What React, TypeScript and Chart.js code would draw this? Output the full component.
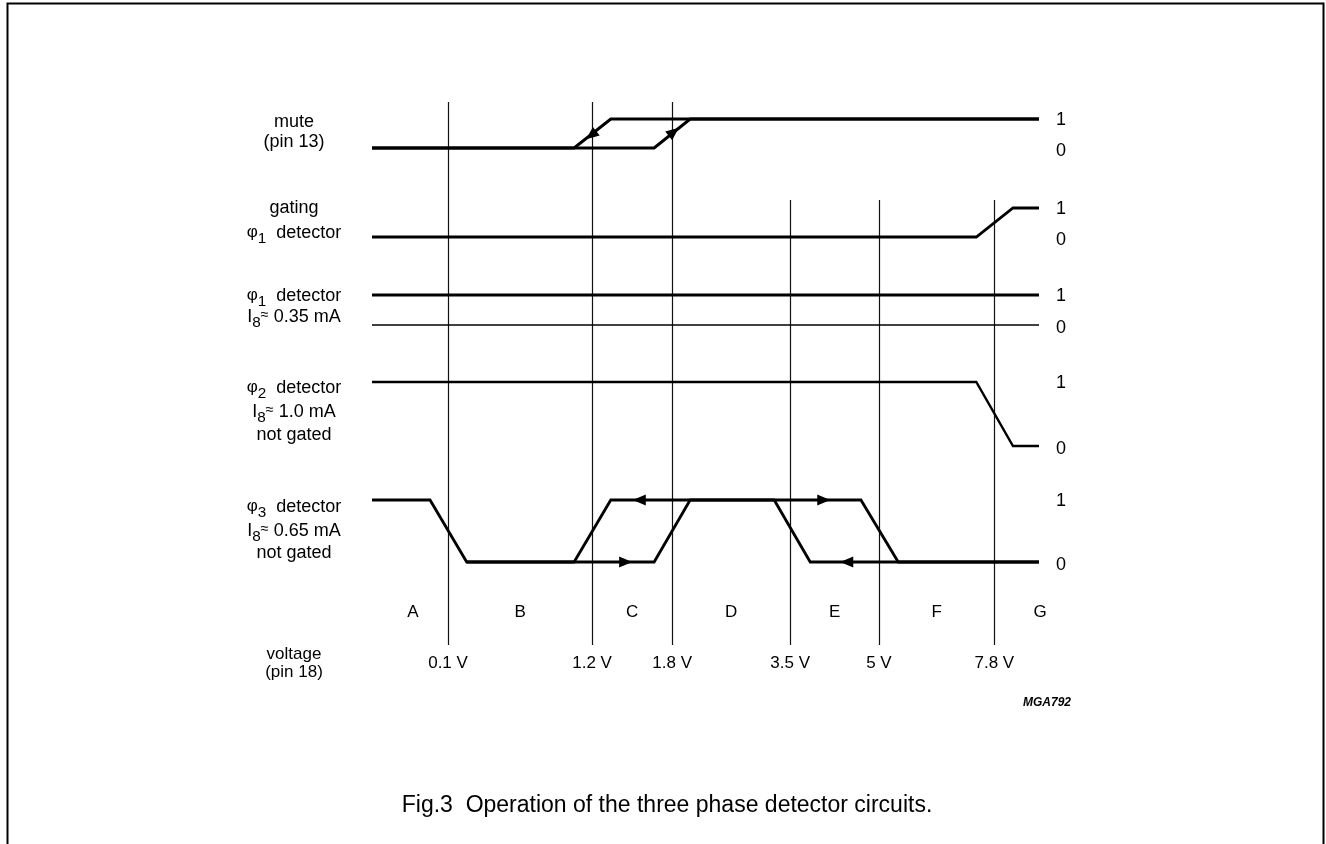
import React, { useEffect, useRef } from "react";
import { Chart, registerables } from "chart.js";

Chart.register(...registerables);

const W = 1326;
const H = 844;

// ---------------- data ----------------
// x = position along the voltage sweep (0 = start of the traces, 100 = end)
const voltageLabels = ["0.1 V", "1.2 V", "1.8 V", "3.5 V", "5 V", "7.8 V"];
const voltagePositions = [11.4, 33.0, 45.0, 62.7, 76.0, 93.3];
const regionLabels = ["A", "B", "C", "D", "E", "F", "G"];
const levelLabels = ["1", "0"];

const muteRiseX = [0, 42.3, 47.7, 100];
const muteRiseLevel = [0, 0, 1, 1];
const muteFallX = [100, 35.8, 30.3, 0];
const muteFallLevel = [1, 1, 0, 0];

const gatingX = [0, 90.6, 96.1, 100];
const gatingLevel = [0, 0, 1, 1];

const phi1X = [0, 100];
const phi1Level = [1, 1];
const phi1RefLevel = [0, 0];

const phi2X = [0, 90.6, 96.1, 100];
const phi2Level = [1, 1, 0, 0];

const phi3RiseX = [0, 8.7, 14.2, 42.3, 47.7, 73.3, 78.9, 100];
const phi3RiseLevel = [1, 1, 0, 0, 1, 1, 0, 0];
const phi3FallX = [100, 65.7, 60.3, 35.8, 30.3, 14.2];
const phi3FallLevel = [0, 0, 1, 1, 0, 0];

// arrow heads (tip position and direction of travel)
const arrowRows = ["mute", "mute", "phi3", "phi3", "phi3", "phi3"];
const arrowX = [32.1, 46.0, 39.0, 39.1, 68.7, 70.2];
const arrowLevel = [0.3, 0.7, 0, 1, 1, 0];
const arrowDx = [-5.5, 5.4, 1, -1, 1, -1];
const arrowDLevel = [-1, 1, 0, 0, 0, 0];

type Seg = { t: string; k?: "sub" | "sym" | "approx" };
const phiDet = (n: string): Seg[] => [{ t: "φ", k: "sym" }, { t: n, k: "sub" }, { t: "  detector" }];
const current = (v: string): Seg[] => [{ t: "I" }, { t: "8", k: "sub" }, { t: "≈", k: "approx" }, { t: " " + v }];

const rowNames = ["mute", "gating", "phi1", "phi2", "phi3"];
const rowLabelLines: Seg[][][] = [
  [[{ t: "mute" }], [{ t: "(pin 13)" }]],
  [[{ t: "gating" }], phiDet("1")],
  [phiDet("1"), current("0.35 mA")],
  [phiDet("2"), current("1.0 mA"), [{ t: "not gated" }]],
  [phiDet("3"), current("0.65 mA"), [{ t: "not gated" }]],
];
const sweepLabelLines = ["voltage", "(pin 18)"];
const figureId = "MGA792";
const caption = "Fig.3  Operation of the three phase detector circuits.";

// ---------------- layout (pixels) ----------------
const L = {
  traceLeft: 372,
  traceRight: 1039,
  rowPx: {
    mute: [148, 119],
    gating: [237, 208],
    phi1: [325, 295],
    phi2: [446, 382],
    phi3: [562, 500],
  } as Record<string, number[]>,
  rowLabelY: [
    [122, 142],
    [208, 233],
    [296, 317],
    [388, 412, 435],
    [507, 531, 553],
  ],
  labelX: 294,
  levelLabelX: 1061,
  markerTop: [102, 102, 102, 200, 200, 200],
  markerBottom: 645,
  regionY: 612,
  regionEdges: [0.9, 107.0],
  voltageY: 663,
  sweepLabelY: [654, 672],
  figIdX: 1047,
  figIdY: 703,
  captionX: 667,
  captionY: 806,
};

const FONT = '"Liberation Sans", Arial, Helvetica, sans-serif';

function xRange() {
  const span = (100 * W) / (L.traceRight - L.traceLeft);
  const min = -(L.traceLeft / W) * span;
  return { min, max: min + span };
}

function rowRange(name: string) {
  const [p0, p1] = L.rowPx[name];
  const span = H / (p0 - p1);
  const min = -(H - p0) / (p0 - p1);
  return { min, max: min + span };
}

function drawRich(ctx: CanvasRenderingContext2D, segs: Seg[], cx: number, cy: number, size: number) {
  const st = segs.map((s) => {
    if (s.k === "sub") return { size: size * 0.85, dy: size * 0.3 };
    if (s.k === "sym") return { size: size * 0.95, dy: -size * 0.05 };
    if (s.k === "approx") return { size: size * 0.8, dy: -size * 0.1 };
    return { size, dy: 0 };
  });
  const widths: number[] = [];
  let total = 0;
  segs.forEach((s, i) => {
    ctx.font = `${st[i].size}px ${FONT}`;
    const w = ctx.measureText(s.t).width;
    widths.push(w);
    total += w;
  });
  let x = cx - total / 2;
  ctx.textAlign = "left";
  ctx.textBaseline = "middle";
  segs.forEach((s, i) => {
    ctx.font = `${st[i].size}px ${FONT}`;
    ctx.fillText(s.t, x, cy + st[i].dy);
    x += widths[i];
  });
}

const diagramPlugin = {
  id: "diagram",
  beforeDraw(chart: any) {
    const ctx = chart.ctx as CanvasRenderingContext2D;
    ctx.save();
    ctx.fillStyle = "#fff";
    ctx.fillRect(0, 0, W, H);
    // frame
    ctx.strokeStyle = "#000";
    ctx.lineWidth = 2;
    ctx.beginPath();
    ctx.moveTo(7.5, H);
    ctx.lineTo(7.5, 3.5);
    ctx.lineTo(1323.5, 3.5);
    ctx.lineTo(1323.5, H);
    ctx.stroke();
    ctx.restore();
  },
  beforeDatasetsDraw(chart: any) {
    const ctx = chart.ctx as CanvasRenderingContext2D;
    const xs = chart.scales.x;
    ctx.save();
    ctx.strokeStyle = "#111";
    ctx.lineWidth = 1.2;
    voltagePositions.forEach((v, i) => {
      const px = Math.round(xs.getPixelForValue(v)) + 0.5;
      ctx.beginPath();
      ctx.moveTo(px, L.markerTop[i]);
      ctx.lineTo(px, L.markerBottom);
      ctx.stroke();
    });
    ctx.restore();
  },
  afterDatasetsDraw(chart: any) {
    const ctx = chart.ctx as CanvasRenderingContext2D;
    const xs = chart.scales.x;
    ctx.save();
    ctx.fillStyle = "#000";
    // arrow heads
    arrowRows.forEach((row, i) => {
      const ys = chart.scales[row];
      const tx = xs.getPixelForValue(arrowX[i]);
      const ty = ys.getPixelForValue(arrowLevel[i]);
      const dx = xs.getPixelForValue(arrowX[i] + arrowDx[i]) - tx;
      const dy = ys.getPixelForValue(arrowLevel[i] + arrowDLevel[i]) - ty;
      const len = Math.hypot(dx, dy);
      const ux = dx / len;
      const uy = dy / len;
      const al = 13;
      const hw = 5.5;
      const bx = tx - ux * al;
      const by = ty - uy * al;
      ctx.beginPath();
      ctx.moveTo(tx, ty);
      ctx.lineTo(bx - uy * hw, by + ux * hw);
      ctx.lineTo(bx + uy * hw, by - ux * hw);
      ctx.closePath();
      ctx.fill();
    });

    // row labels on the left and level labels on the right
    rowNames.forEach((row, r) => {
      rowLabelLines[r].forEach((segs, j) => {
        drawRich(ctx, segs, L.labelX, L.rowLabelY[r][j], 18);
      });
      const ys = chart.scales[row];
      ctx.font = `18px ${FONT}`;
      ctx.textAlign = "center";
      ctx.textBaseline = "middle";
      ctx.fillText(levelLabels[0], L.levelLabelX, ys.getPixelForValue(1) + 1);
      ctx.fillText(levelLabels[1], L.levelLabelX, ys.getPixelForValue(0) + 3);
    });

    // region letters
    const edges = [L.regionEdges[0], ...voltagePositions, L.regionEdges[1]];
    ctx.font = `17px ${FONT}`;
    ctx.textAlign = "center";
    ctx.textBaseline = "middle";
    regionLabels.forEach((lab, i) => {
      const px = (xs.getPixelForValue(edges[i]) + xs.getPixelForValue(edges[i + 1])) / 2;
      ctx.fillText(lab, px, L.regionY);
    });

    // voltage labels
    voltageLabels.forEach((lab, i) => {
      ctx.fillText(lab, xs.getPixelForValue(voltagePositions[i]), L.voltageY);
    });
    ctx.font = `17px ${FONT}`;
    sweepLabelLines.forEach((t, i) => ctx.fillText(t, L.labelX, L.sweepLabelY[i]));

    // figure id
    ctx.font = `italic bold 12px ${FONT}`;
    ctx.fillText(figureId, L.figIdX, L.figIdY);

    // caption
    ctx.font = `23px ${FONT}`;
    ctx.fillText(caption, L.captionX, L.captionY);
    ctx.restore();
  },
};

function trace(xs: number[], levels: number[], row: string, width: number) {
  return {
    data: xs.map((x, i) => ({ x, y: levels[i] })),
    yAxisID: row,
    xAxisID: "x",
    showLine: true,
    borderColor: "#000",
    backgroundColor: "#000",
    borderWidth: width,
    pointRadius: 0,
    tension: 0,
    fill: false,
    borderJoinStyle: "miter" as const,
    borderCapStyle: "butt" as const,
  };
}

export default function App() {
  const ref = useRef<HTMLCanvasElement>(null);
  useEffect(() => {
    const xr = xRange();
    const rowScale = (name: string) => ({
      type: "linear" as const,
      axis: "y" as const,
      position: "left" as const,
      display: false,
      bounds: "data" as const,
      ...rowRange(name),
    });
    const chart = new Chart(ref.current as HTMLCanvasElement, {
      type: "scatter",
      data: {
        datasets: [
          trace(muteRiseX, muteRiseLevel, "mute", 3),
          trace(muteFallX, muteFallLevel, "mute", 3),
          trace(gatingX, gatingLevel, "gating", 2.8),
          trace(phi1X, phi1Level, "phi1", 3),
          trace(phi1X, phi1RefLevel, "phi1", 1.6),
          trace(phi2X, phi2Level, "phi2", 2.4),
          trace(phi3RiseX, phi3RiseLevel, "phi3", 2.8),
          trace(phi3FallX, phi3FallLevel, "phi3", 2.8),
        ] as any,
      },
      options: {
        responsive: false,
        animation: false,
        events: [],
        layout: { padding: 0 },
        plugins: { legend: { display: false }, tooltip: { enabled: false } },
        scales: {
          x: { type: "linear", display: false, bounds: "data", min: xr.min, max: xr.max },
          y: { display: false },
          mute: rowScale("mute"),
          gating: rowScale("gating"),
          phi1: rowScale("phi1"),
          phi2: rowScale("phi2"),
          phi3: rowScale("phi3"),
        } as any,
      },
      plugins: [diagramPlugin],
    });
    return () => chart.destroy();
  }, []);
  return (
    <div style={{ position: "fixed", left: 0, top: 0, width: W, height: H, background: "#fff" }}>
      <canvas ref={ref} width={W} height={H} style={{ display: "block", width: W, height: H }} />
    </div>
  );
}
